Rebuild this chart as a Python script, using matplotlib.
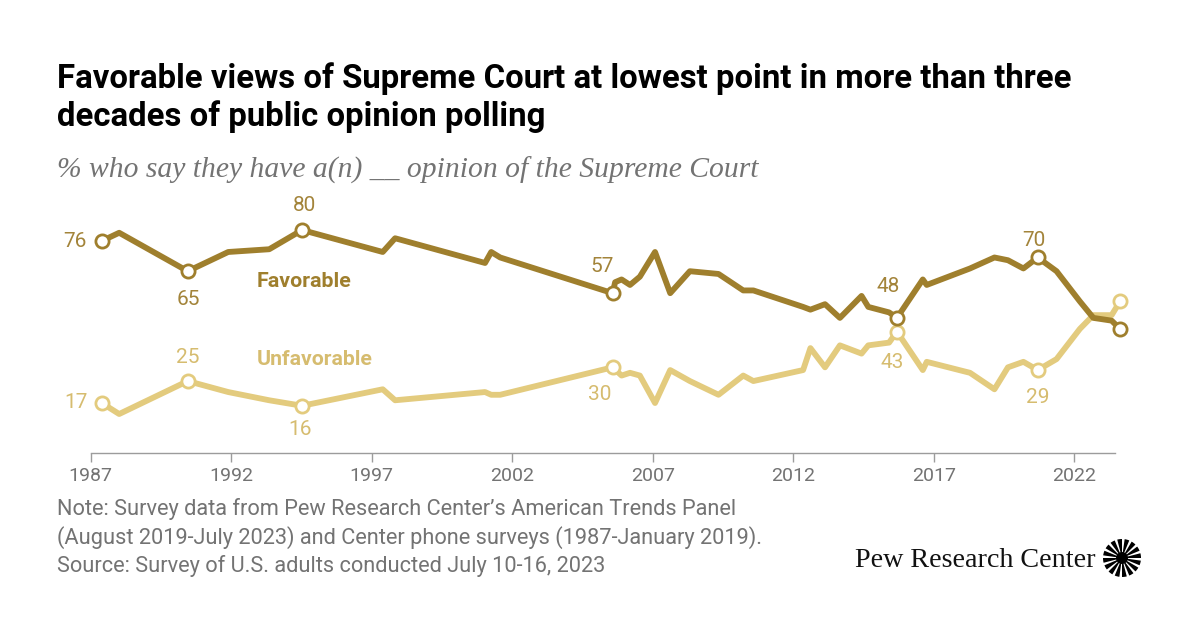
import matplotlib
matplotlib.use("Agg")
import matplotlib.pyplot as plt
import numpy as np
from matplotlib.patches import Wedge, Circle

# ---------------- data ----------------
fav_years = [1987.39, 1988.01, 1990.45, 1991.89, 1993.35, 1994.52, 1997.39, 1997.83,
             2001.03, 2001.25, 2001.57, 2005.57, 2005.66, 2005.89, 2006.19, 2006.54,
             2007.08, 2007.62, 2008.32, 2009.34, 2010.22, 2010.58, 2012.35, 2012.61,
             2013.13, 2013.66, 2014.43, 2014.67, 2015.41, 2015.69, 2016.61, 2016.75,
             2018.29, 2019.16, 2019.64, 2020.19, 2020.70, 2021.37, 2022.20, 2022.68,
             2023.33, 2023.63]
fav_values = [76, 79, 65, 72, 73, 80, 72, 77,
              68, 72, 70, 57, 61, 62, 60, 63,
              72, 57, 65, 64, 58, 58, 52, 51,
              53, 48, 56, 52, 50, 48, 62, 60,
              66, 70, 69, 66, 70, 65, 54, 48,
              47, 44]

unfav_years = [1987.39, 1988.01, 1990.45, 1991.89, 1993.35, 1994.52, 1997.39, 1997.83,
               2001.03, 2001.25, 2001.57, 2005.57, 2005.89, 2006.19, 2006.54,
               2007.08, 2007.62, 2008.32, 2009.34, 2010.22, 2010.58, 2012.35, 2012.61,
               2013.13, 2013.66, 2014.43, 2014.67, 2015.41, 2015.69, 2016.61, 2016.75,
               2018.29, 2019.16, 2019.64, 2020.19, 2020.70, 2021.37, 2022.20, 2022.68,
               2023.33, 2023.63]
unfav_values = [17, 13, 25, 21, 18, 16, 22, 18,
                21, 20, 20, 30, 27, 28, 27,
                17, 29, 25, 20, 27, 25, 29, 37,
                30, 38, 35, 38, 39, 43, 29, 32,
                28, 22, 30, 32, 29, 33, 44, 49,
                49, 54]

# labelled (marked) points: year -> offset in px (dx, dy; dy positive = down), ha
marked_years = [1987.39, 1990.45, 1994.52, 2005.57, 2015.69, 2020.70, 2023.63]
fav_label_offsets = [(-15, 0, "right"), (1, 28, "center"), (2, -25, "center"),
                     (-10, -27, "center"), (-9, -31, "center"), (-4, -17, "center"),
                     (-2, 26, "center")]
unfav_label_offsets = [(-14, -1, "right"), (0, -24, "center"), (-2, 24, "center"),
                       (-13, 27, "center"), (-5, 31, "center"), (0, 27, "center"),
                       (-2, -30, "center")]

tick_years = [1987, 1992, 1997, 2002, 2007, 2012, 2017, 2022]

title = ("Favorable views of Supreme Court at lowest point in more than three\n"
         "decades of public opinion polling")
subtitle = "% who say they have a(n) __ opinion of the Supreme Court"
notes = ["Note: Survey data from Pew Research Center\u2019s American Trends Panel",
         "(August 2019-July 2023) and Center phone surveys (1987-January 2019).",
         "Source: Survey of U.S. adults conducted July 10-16, 2023"]

# ---------------- style ----------------
FAV = "#9F7F2D"
FAV_TXT = "#A3843A"
UNF = "#E3CB7E"
UNF_TXT = "#D6BC6F"
GRAY = "#737373"
AXIS = "#9C9C9C"
SANS = ["Roboto", "DejaVu Sans"]
SERIF = ["Liberation Serif", "DejaVu Serif"]

W, H = 1200, 628
fig = plt.figure(figsize=(W / 100, H / 100), dpi=100)
fig.patch.set_facecolor("white")
renderer = fig.canvas.get_renderer()


def fit_width(t, target):
    for _ in range(3):
        bb = t.get_window_extent(renderer)
        t.set_fontsize(t.get_fontsize() * target / bb.width)


def ftext(x, y, s, **kw):
    return fig.text(x / W, 1 - y / H, s, transform=fig.transFigure, **kw)


# axes placement (pixels)
x_left, x_right = 90.8, 1115.0
y_top, y_bot = 175.1, 453.0
ax = fig.add_axes([x_left / W, 1 - y_bot / H, (x_right - x_left) / W, (y_bot - y_top) / H])
ax.set_xlim(1987, 2023.45)
ax.set_ylim(-1.2, 100)
ax.set_facecolor("none")
for s in ["top", "right", "left"]:
    ax.spines[s].set_visible(False)
ax.spines["bottom"].set_color(AXIS)
ax.spines["bottom"].set_linewidth(1.0)
ax.set_yticks([])
ax.set_xticks(tick_years)
ax.set_xticklabels([str(t) for t in tick_years])
ax.tick_params(axis="x", direction="out", length=6.5, width=1.0, color=AXIS,
               labelcolor=GRAY, labelsize=14, pad=3.5)
for lab in ax.get_xticklabels():
    lab.set_fontfamily(SANS)

lw = 4.2
ax.plot(unfav_years, unfav_values, color=UNF, lw=lw, solid_joinstyle="round",
        solid_capstyle="round", clip_on=False, zorder=2)
ax.plot(fav_years, fav_values, color=FAV, lw=lw, solid_joinstyle="round",
        solid_capstyle="round", clip_on=False, zorder=3)


def val_at(years, vals, yr):
    return vals[years.index(yr)]


ms = 9.5
for yr, off in zip(marked_years, unfav_label_offsets):
    v = val_at(unfav_years, unfav_values, yr)
    ax.plot([yr], [v], marker="o", ms=ms, mfc="white", mec=UNF, mew=2.0,
            clip_on=False, zorder=4)
    ax.annotate(str(v), (yr, v), xytext=(off[0] * 0.72, -off[1] * 0.72),
                textcoords="offset points", ha=off[2], va="center",
                color=UNF_TXT, fontsize=15, family=SANS, zorder=6)
for yr, off in zip(marked_years, fav_label_offsets):
    v = val_at(fav_years, fav_values, yr)
    ax.plot([yr], [v], marker="o", ms=ms, mfc="white", mec=FAV, mew=2.0,
            clip_on=False, zorder=5)
    ax.annotate(str(v), (yr, v), xytext=(off[0] * 0.72, -off[1] * 0.72),
                textcoords="offset points", ha=off[2], va="center",
                color=FAV_TXT, fontsize=15, family=SANS, zorder=6)

# series name labels
t = ax.text(1992.9, 61.4, "Favorable", color=FAV, fontsize=14, fontweight="bold",
            family=SANS, ha="left", va="center")
fit_width(t, 95)
t = ax.text(1992.9, 32.85, "Unfavorable", color=UNF_TXT, fontsize=14, fontweight="bold",
            family=SANS, ha="left", va="center")
fit_width(t, 116)

# title
l1, l2 = title.split("\n")
t1 = ftext(57, 88, l1, fontsize=20, fontweight="bold", family=SANS, color="black",
           ha="left", va="baseline")
fit_width(t1, 1011)
ftext(57, 126, l2, fontsize=t1.get_fontsize(), fontweight="bold", family=SANS,
      color="black", ha="left", va="baseline")

# subtitle
st = ftext(57, 178, subtitle, fontsize=17, style="italic", family=SERIF, color=GRAY,
           ha="left", va="baseline")
fit_width(st, 700)

# notes
n1 = ftext(57, 515, notes[0], fontsize=13, family=SANS, color=GRAY, ha="left", va="baseline")
fit_width(n1, 681)
for i, s in enumerate(notes[1:], start=1):
    ftext(57, 515 + 28.5 * i, s, fontsize=n1.get_fontsize(), family=SANS, color=GRAY,
          ha="left", va="baseline")

# logo
lg = ftext(855, 567, "Pew Research Center", fontsize=16, family=SERIF, color="#111111",
           ha="left", va="baseline")
fit_width(lg, 240)

lax = fig.add_axes([(1122 - 22) / W, 1 - (558 + 22) / H, 44 / W, 44 / H])
lax.set_xlim(-1.1, 1.1)
lax.set_ylim(-1.1, 1.1)
lax.set_aspect("equal")
lax.axis("off")
n_rays = 16
for k in range(n_rays):
    a0 = k * 360 / n_rays
    lax.add_patch(Wedge((0, 0), 0.95, a0, a0 + 14.5, width=0.7, color="black", lw=0))
lax.add_patch(Circle((0, 0), 0.3, color="black", lw=0))

fig.savefig("out.png", dpi=100, facecolor="white")
